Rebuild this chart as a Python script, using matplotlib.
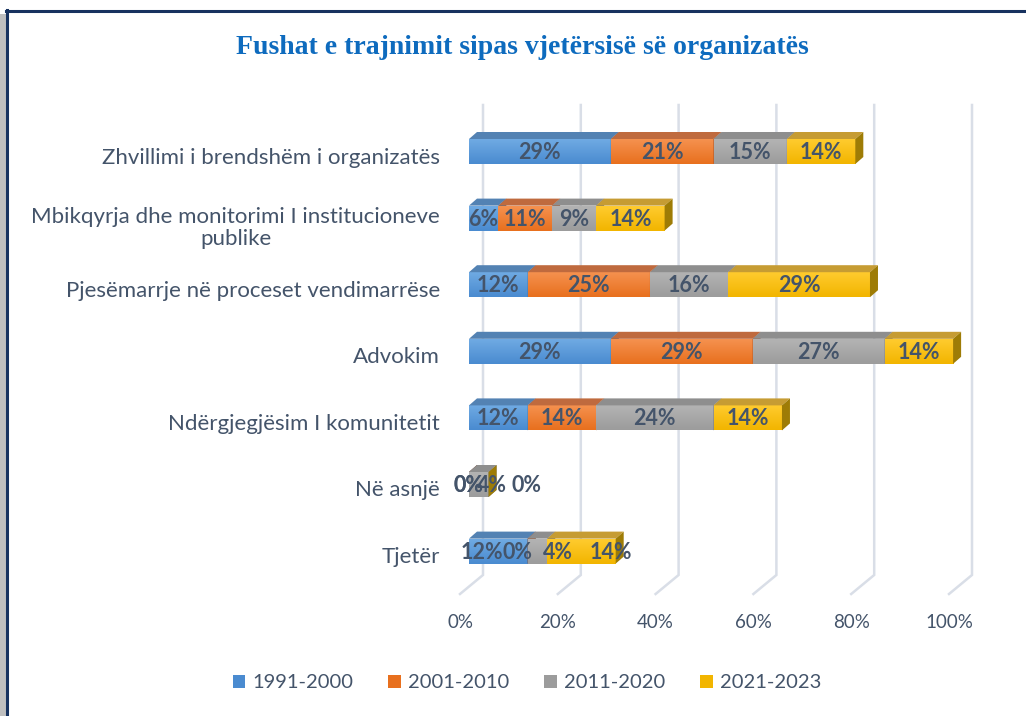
import numpy as np
import matplotlib
matplotlib.use("Agg")
import matplotlib.pyplot as plt
from matplotlib.patches import Polygon, Rectangle, Patch
from matplotlib.lines import Line2D
from matplotlib.colors import to_rgb

# ---------------- data ----------------
categories = [
    "Zhvillimi i brendshëm i organizatës",
    "Mbikqyrja dhe monitorimi I institucioneve\npublike",
    "Pjesëmarrje në proceset vendimarrëse",
    "Advokim",
    "Ndërgjegjësim I komunitetit",
    "Në asnjë",
    "Tjetër",
]
series_names = ["1991-2000", "2001-2010", "2011-2020", "2021-2023"]
v_1991_2000 = [29, 6, 12, 29, 12, 0, 12]
v_2001_2010 = [21, 11, 25, 29, 14, 0, 0]
v_2011_2020 = [15, 9, 16, 27, 24, 4, 4]
v_2021_2023 = [14, 14, 29, 14, 14, 0, 14]
series_values = [v_1991_2000, v_2001_2010, v_2011_2020, v_2021_2023]
x_ticks = [0, 20, 40, 60, 80, 100]
x_tick_labels = ["0%", "20%", "40%", "60%", "80%", "100%"]

# ---------------- style ----------------
front_top = ["#6FAAE3", "#F5914F", "#B3B3B3", "#FFCB2E"]
front_bot = ["#4A8BD0", "#E8701E", "#9C9C9C", "#F2B500"]
top_col = ["#5382B3", "#BF6A3E", "#8E8E8E", "#C69C33"]
side_col = ["#3E6F9E", "#A8552A", "#7A7A7A", "#9E7C06"]
txt_col = "#44546A"
grid_col = "#D9DEE7"

# label nudges in pixels (row, series) -> dx
label_nudge = {(6, 0): -16, (6, 1): -10, (6, 2): 20, (6, 3): 29,
               (5, 0): -1, (5, 1): -1, (5, 2): 13, (5, 3): 38}

W, H = 1026, 716
fig = plt.figure(figsize=(W / 100, H / 100), dpi=100)

# pixel layout
X0_PX, X100_PX = 469, 958
TOP_PX, BOT_PX = 105, 594
C0_PX, STEP_PX = 151.5, 66.6
ax = fig.add_axes([X0_PX / W, 1 - BOT_PX / H, (X100_PX - X0_PX) / W, (BOT_PX - TOP_PX) / H])
ax.set_xlim(0, 100)
y_top = (TOP_PX - C0_PX) / STEP_PX
y_bot = (BOT_PX - C0_PX) / STEP_PX
ax.set_ylim(y_bot, y_top)
ax.axis("off")

pxx = 100 / (X100_PX - X0_PX)   # data per pixel in x
pxy = 1 / STEP_PX                # data per pixel in y

def dxp(p):
    return p * pxx

def dyp(p):
    return p * pxy

# gridlines (back wall + floor diagonal)
floor_back_y = (575 - C0_PX) / STEP_PX
label_y = (622 - C0_PX) / STEP_PX
for t, lab in zip(x_ticks, x_tick_labels):
    xb = t + dxp(14)
    xf = t - dxp(9)
    ax.plot([xb, xb, xf], [y_top, floor_back_y, y_bot], color=grid_col, lw=1.8,
            clip_on=False, zorder=0, solid_joinstyle="miter")
    ax.text(xf, label_y, lab, ha="center", va="center", fontsize=13.5,
            color=txt_col, family="Lato")

# bars
bh = 25 / STEP_PX
ddx, ddy = dxp(8), dyp(7)
n = len(categories)
for i in range(n):
    left = 0.0
    for s, vals in enumerate(series_values):
        w = vals[i]
        z = 2 + s * 0.1 + i * 0.01
        top = i - bh / 2
        bot = i + bh / 2
        if w > 0:
            c1, c2 = np.array(to_rgb(front_top[s])), np.array(to_rgb(front_bot[s]))
            tt = np.linspace(0, 1, 32)[:, None, None]
            grad = c1[None, None, :] * (1 - tt) + c2[None, None, :] * tt
            ax.imshow(grad, extent=(left, left + w, bot, top), origin="upper",
                      aspect="auto", interpolation="bilinear", zorder=z, clip_on=False)
            ax.add_patch(Polygon([(left, top), (left + w, top), (left + w + ddx, top - ddy),
                                  (left + ddx, top - ddy)], closed=True, fc=top_col[s],
                                 ec="none", zorder=z, clip_on=False))
        ax.add_patch(Polygon([(left + w, top), (left + w + ddx, top - ddy),
                              (left + w + ddx, bot - ddy), (left + w, bot)], closed=True,
                             fc=side_col[s], ec="none", zorder=z + 0.001, clip_on=False))
        xc = left + w / 2 + dxp(label_nudge.get((i, s), 0))
        ax.text(xc, i + dyp(1), f"{w}%", ha="center", va="center", fontsize=15.5,
                fontweight="bold", color=txt_col, family="Lato", zorder=10)
        left += w

ax.set_xlim(0, 100)
ax.set_ylim(y_bot, y_top)

# category labels
for i, c in enumerate(categories):
    off = 6 if "\n" not in c else 10
    ax.text(-dxp(29), i + dyp(off), c, ha="right", va="center", fontsize=16,
            color=txt_col, family="Lato", linespacing=1.15, multialignment="center")

# title
fig.text(522 / W, 1 - 48 / H, "Fushat e trajnimit sipas vjetërsisë së organizatës",
         ha="center", va="center", fontsize=20, fontweight="bold",
         family="Liberation Serif", color="#0E6BBE")

# legend
handles = [Patch(facecolor=front_bot[s], edgecolor="none") for s in range(4)]
leg = fig.legend(handles, series_names, loc="center", bbox_to_anchor=(527 / W, 1 - 683 / H),
                 ncol=4, frameon=False, fontsize=14.5, handlelength=0.62, handleheight=0.62,
                 handletextpad=0.35, columnspacing=1.75)
for t in leg.get_texts():
    t.set_color(txt_col)
    t.set_family("Lato")

# frame
fig.add_artist(Rectangle((0, 0), 6 / W, 1 - 14 / H, transform=fig.transFigure,
                         fc="#BFBFBF", ec="none"))
fig.add_artist(Line2D([7 / W, 7 / W], [0, 1 - 10 / H], transform=fig.transFigure,
                      color="#17325F", lw=2.2))
fig.add_artist(Line2D([6 / W, 1], [1 - 10.5 / H, 1 - 10.5 / H], transform=fig.transFigure,
                      color="#17325F", lw=2.2))

fig.savefig("out.png", dpi=100)
